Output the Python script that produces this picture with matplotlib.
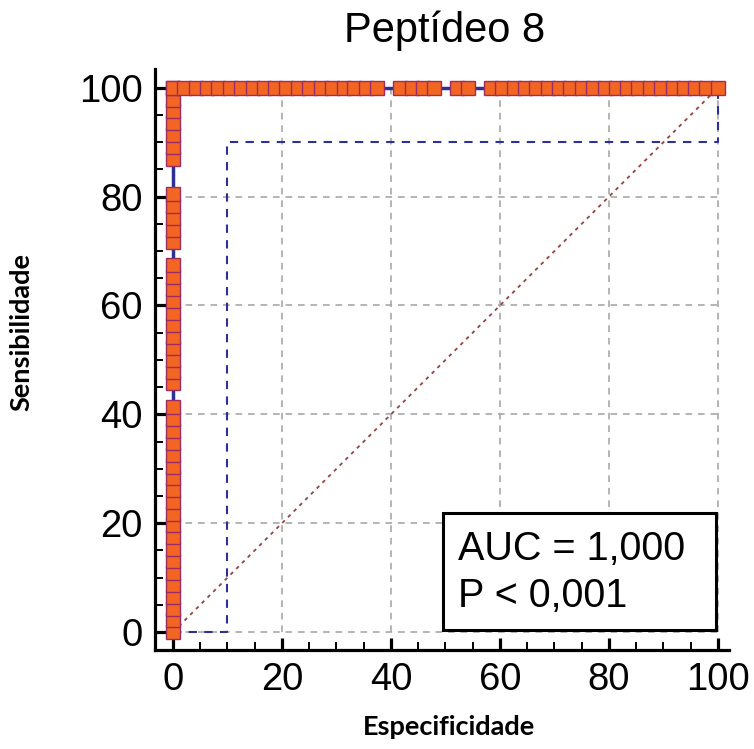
import matplotlib
matplotlib.use('Agg')
import matplotlib.pyplot as plt
from matplotlib.patches import Rectangle
from matplotlib.ticker import MultipleLocator

plt.rcParams['font.family'] = ['Liberation Sans', 'DejaVu Sans']

# ROC points
# vertical run at 100-specificity = 0
sens = [0, 2.2, 4.3, 6.5, 8.7, 10.9, 13.0, 15.2, 17.4, 19.6, 21.7, 23.9,
        26.1, 28.3, 30.4, 32.6, 34.8, 37.0, 39.1, 41.3,
        45.7, 47.8, 50.0, 52.2, 54.3, 56.5, 58.7, 60.9, 63.0, 65.2, 67.4,
        71.7, 73.9, 76.1, 78.3, 80.4,
        87.0, 89.1, 91.3, 93.5, 95.7, 97.8, 100.0]
# horizontal run at sensitivity = 100
spec = [0, 2.1, 4.2, 6.3, 8.3, 10.4, 12.5, 14.6, 16.7, 18.8, 20.8, 22.9,
        25.0, 27.1, 29.2, 31.3, 33.3, 35.4, 37.5,
        41.7, 43.8, 45.8, 47.9,
        52.1, 54.2,
        58.3, 60.4, 62.5, 64.6, 66.7, 68.8, 70.8, 72.9, 75.0, 77.1, 79.2,
        81.3, 83.3, 85.4, 87.5, 89.6, 91.7, 93.8, 95.8, 97.9, 100.0]

# ROC curve and lower confidence bound
curve_x = [0, 0, 100]
curve_y = [0, 100, 100]
ci_x = [0, 10, 10, 100, 100]
ci_y = [0, 0, 90, 90, 100]
grid_vals = [0, 20, 40, 60, 80, 100]

title = 'Peptídeo 8'
xlabel = 'Especificidade'
ylabel = 'Sensibilidade'
auc_text = 'AUC = 1,000'
p_text = 'P < 0,001'

orange = '#f26522'
purple = '#9b2d62'
navy = '#2e3192'

fig = plt.figure(figsize=(7.54, 7.49), dpi=100)
ax = fig.add_axes([0.2056, 0.1322, 0.761, 0.776])
ax.set_xlim(-3.3, 102)
ax.set_ylim(-3.3, 103.5)

for s in ('top', 'right'):
    ax.spines[s].set_visible(False)
for s in ('left', 'bottom'):
    ax.spines[s].set_linewidth(2.3)

ax.xaxis.set_major_locator(MultipleLocator(20))
ax.xaxis.set_minor_locator(MultipleLocator(5))
ax.yaxis.set_major_locator(MultipleLocator(20))
ax.yaxis.set_minor_locator(MultipleLocator(5))
ax.tick_params(which='major', direction='in', length=9, width=2.3,
               labelsize=27.5, pad=9)
ax.tick_params(which='minor', direction='in', length=6, width=1.4)

# dashed grid, only inside the 0..100 box
gs = dict(ls=(0, (4, 3.5)), lw=1.2, color='#a8a8a8', zorder=1)
for v in grid_vals:
    ax.plot([0, 100], [v, v], **gs)
    ax.plot([v, v], [0, 100], **gs)

ax.plot([0, 100], [0, 100], ls=(0, (2, 2.5)), lw=1.3, color='#9b4040',
        zorder=2)
ax.plot(ci_x, ci_y, ls=(0, (4, 3.5)), lw=1.5, color=navy, zorder=2)
ax.plot(curve_x, curve_y, color=navy, lw=2.5, zorder=3)

mk = dict(marker='s', ls='none', markersize=9.5, markerfacecolor=orange,
          markeredgecolor=purple, markeredgewidth=1.0, zorder=4)
ax.plot([0] * len(sens), sens, **mk)
ax.plot(spec, [100] * len(spec), **mk)

# AUC box
ax.add_patch(Rectangle((49.5, 0.4), 50.1, 21.5, facecolor='white',
                       edgecolor='black', lw=2.2, zorder=5))
ax.text(52.3, 13.2, auc_text, fontsize=28.5, ha='left', va='baseline',
        zorder=6)
ax.text(52.3, 4.6, p_text, fontsize=28.5, ha='left', va='baseline',
        zorder=6)

fig.text(0.589, 1 - 42 / 749, title, fontsize=30, ha='center',
         va='baseline')
fig.text(0.595, 1 - 735 / 749, xlabel, fontsize=19.5, fontweight='bold',
         ha='center', va='baseline', family='Lato')
fig.text(0.029, 0.557, ylabel, fontsize=19.5, fontweight='bold',
         ha='center', va='center', rotation=90, family='Lato')

fig.savefig('out.png', dpi=100)
